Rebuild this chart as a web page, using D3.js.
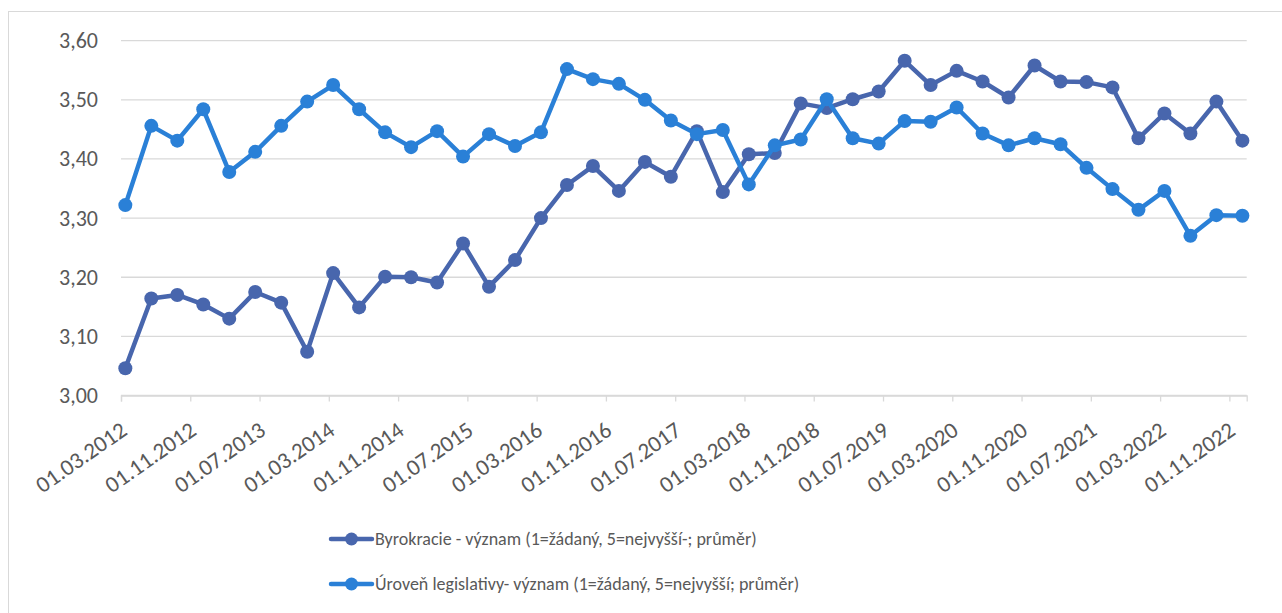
<!DOCTYPE html>
<html><head><meta charset="utf-8">
<script src="https://cdn.jsdelivr.net/npm/d3@7"></script>
<style>body{margin:0;background:#fff;} svg{display:block;}</style>
</head><body>
<svg id="c" width="1282" height="613"></svg>
<script>
const tickLabels = ["01.03.2012","01.11.2012","01.07.2013","01.03.2014","01.11.2014","01.07.2015","01.03.2016","01.11.2016","01.07.2017","01.03.2018","01.11.2018","01.07.2019","01.03.2020","01.11.2020","01.07.2021","01.03.2022","01.11.2022"];
// quarterly observations, month offsets from 03/2012
const months = d3.range(0, 130, 3);
const byrokracie = [3.046,3.164,3.170,3.154,3.130,3.175,3.157,3.074,3.207,3.149,3.201,3.200,3.191,3.257,3.184,3.229,3.300,3.356,3.388,3.346,3.395,3.370,3.447,3.344,3.408,3.410,3.494,3.486,3.501,3.514,3.566,3.525,3.549,3.531,3.504,3.558,3.531,3.530,3.521,3.435,3.477,3.443,3.497,3.431];
const legislativa = [3.322,3.456,3.431,3.484,3.378,3.412,3.456,3.497,3.525,3.484,3.445,3.420,3.447,3.404,3.442,3.422,3.445,3.552,3.535,3.527,3.500,3.465,3.442,3.449,3.357,3.423,3.433,3.501,3.435,3.426,3.464,3.463,3.487,3.443,3.423,3.435,3.425,3.385,3.349,3.314,3.346,3.270,3.305,3.304];
const seriesNames = ["Byrokracie - význam (1=žádaný, 5=nejvyšší-; průměr)","Úroveň legislativy- význam (1=žádaný, 5=nejvyšší; průměr)"];
const colors = ["#4866AD","#2A80D7"];
const yTicks = [3.0,3.1,3.2,3.3,3.4,3.5,3.6];

const svg = d3.select("#c");
const font = "Carlito, Calibri, Lato, sans-serif";
// chart border
svg.append("rect").attr("x",8.5).attr("y",11.5).attr("width",1290).attr("height",620)
  .attr("fill","none").attr("stroke","#d9d9d9");

const x = d3.scaleLinear().domain([0,130]).range([121,1246.7]);
const y = d3.scaleLinear().domain([3.0,3.6]).range([395.5,40.7]);

// gridlines
svg.append("g").selectAll("line").data(yTicks).join("line")
  .attr("x1",x(0)).attr("x2",x(130)).attr("y1",d=>y(d)).attr("y2",d=>y(d))
  .attr("stroke","#d9d9d9").attr("stroke-width",1.3);

// y labels
svg.append("g").selectAll("text").data(yTicks).join("text")
  .attr("x",98).attr("y",d=>y(d)).attr("dy","0.34em").attr("text-anchor","end")
  .attr("font-family",font).attr("font-size",22).attr("fill","#595959")
  .text(d=>d3.format(".2f")(d).replace(".",","));

// x axis
const xAxis = d3.axisBottom(x).tickValues(d3.range(0,130,8)).tickSize(6)
  .tickFormat((d,i)=>tickLabels[i]);
const gx = svg.append("g").attr("transform",`translate(0,${y(3.0)})`).call(xAxis);
gx.select(".domain").attr("stroke","#d9d9d9").attr("stroke-width",1.3);
gx.selectAll(".tick line").attr("stroke","#d9d9d9").attr("stroke-width",1.3);
gx.selectAll(".tick text")
  .attr("font-family",font).attr("font-size",23).attr("fill","#595959")
  .attr("text-anchor","end").attr("x",0).attr("y",0).attr("dy",0)
  .attr("transform","translate(7,38) rotate(-35)");

// series
const data = [byrokracie, legislativa];
const line = d3.line().x((d,i)=>x(months[i]+0.5)).y(d=>y(d));
data.forEach((vals,si)=>{
  const g = svg.append("g");
  g.append("path").datum(vals).attr("d",line).attr("fill","none")
    .attr("stroke",colors[si]).attr("stroke-width",4.5).attr("stroke-linejoin","round");
  g.selectAll("circle").data(vals).join("circle")
    .attr("cx",(d,i)=>x(months[i]+0.5)).attr("cy",d=>y(d)).attr("r",7)
    .attr("fill",colors[si]);
});

// legend
const leg = svg.append("g");
seriesNames.forEach((name,i)=>{
  const ly = 539 + i*45;
  leg.append("line").attr("x1",331).attr("x2",372).attr("y1",ly).attr("y2",ly)
    .attr("stroke",colors[i]).attr("stroke-width",4.5).attr("stroke-linecap","round");
  leg.append("circle").attr("cx",351.5).attr("cy",ly).attr("r",6.5).attr("fill",colors[i]);
  leg.append("text").attr("x",375).attr("y",ly).attr("dy","0.34em")
    .attr("font-family",font).attr("font-size",18).attr("fill","#595959").text(name);
});
</script>
</body></html>
